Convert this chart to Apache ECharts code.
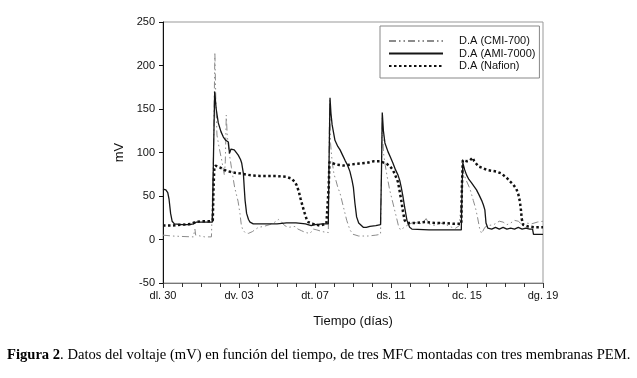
<!DOCTYPE html>
<html>
<head>
<meta charset="utf-8">
<script src="https://cdn.jsdelivr.net/npm/echarts/dist/echarts.min.js"></script>
<style>
html,body{margin:0;padding:0;background:#fff;}
#chart{width:637px;height:378px;}
</style>
</head>
<body>
<div id="chart"></div>
<script>
// x = days since "dl. 30"; values in mV
const xTickLabels = ['dl. 30', 'dv. 03', 'dt. 07', 'ds. 11', 'dc. 15', 'dg. 19'];
const seriesNames = ['D.A (CMI-700)', 'D.A (AMI-7000)', 'D.A (Nafion)'];

const cmi700 = [
  [0,5],[0.5,4],[1.0,3.5],[1.6,3],[1.66,3],[1.68,12],[1.72,5],[1.8,4],[2.2,3],[2.55,3],[2.62,3],
  [2.66,100],[2.73,215],[2.78,160],[2.84,120],[2.96,105],[3.1,90],[3.23,74],[3.28,90],[3.33,143],
  [3.38,120],[3.42,112],[3.5,97],[3.6,83],[3.68,72],[3.77,60],[3.86,52],[3.95,44],[4.05,30],
  [4.12,17],[4.2,11],[4.32,8],[4.49,7],[4.7,9],[5.02,14],[5.3,15],[5.6,17],[5.89,20],[6.07,23],
  [6.25,20],[6.4,16],[6.6,14],[6.95,15],[7.1,12],[7.3,10],[7.5,8],[7.74,7],[7.91,12],[8.1,11],
  [8.4,9],[8.7,8],
  [8.74,100],[8.77,160],[8.82,110],[8.9,90],[9.0,75],[9.1,68],[9.2,60],[9.32,53],[9.5,37],
  [9.67,22],[9.84,11],[10.0,6],[10.3,4],[10.8,4],[11.2,5],[11.45,6],
  [11.5,80],[11.54,140],[11.6,100],[11.7,85],[11.8,72],[11.93,57],[12.1,42],[12.28,26],[12.4,15],
  [12.5,11],[12.7,14],[12.9,17],[13.2,20],[13.5,18],[13.7,20],[13.85,24],[14.0,18],[14.3,16],
  [14.6,19],[14.9,17],[15.2,14],[15.4,13],[15.6,16],[15.7,17],
  [15.74,60],[15.78,82],[15.85,74],[15.96,68],[16.16,58],[16.33,45],[16.45,36],[16.55,26],
  [16.67,12],[16.77,7],[16.86,8],[16.94,14],[17.1,16],[17.4,17],[17.7,21],[17.9,20],[18.1,17],
  [18.3,19],[18.5,22],[18.7,21],[18.9,17],[19.1,19],[19.4,18],[19.7,20],[20,21]
];

const ami7000 = [
  [0,58],[0.15,57],[0.25,54],[0.32,46],[0.4,30],[0.48,21],[0.6,18],[1.0,17],[1.4,17],[1.6,18],
  [1.75,20],[2.2,20],[2.6,20],
  [2.66,100],[2.72,170],[2.8,150],[2.91,134],[3.05,124],[3.17,118],[3.3,114],[3.44,112],[3.5,99],
  [3.58,104],[3.75,103],[3.96,97],[4.08,92],[4.14,88],[4.23,76],[4.28,58],[4.32,45],[4.4,30],
  [4.5,23],[4.58,20],[4.75,18],[5.5,18],[6.0,18],[6.5,19],[7.0,19],[7.5,18],[7.8,16],[8.0,17],
  [8.4,18],[8.7,18],
  [8.74,90],[8.79,163],[8.84,145],[8.9,132],[9.05,114],[9.2,107],[9.32,103],[9.45,97],[9.58,91],
  [9.72,85],[9.84,78],[9.95,68],[10.02,60],[10.1,42],[10.19,26],[10.3,19],[10.37,17],[10.54,14],
  [10.7,14],[10.89,15],[11.2,16],[11.45,17],
  [11.5,80],[11.54,146],[11.6,125],[11.68,111],[11.84,101],[11.96,95],[12.1,88],[12.24,80],
  [12.37,74],[12.46,68],[12.54,60],[12.64,48],[12.72,37],[12.84,22],[12.98,14],[13.1,12],
  [14,11],[15,11],[15.7,11],
  [15.74,60],[15.78,88],[15.88,80],[15.98,74],[16.1,69],[16.24,65],[16.37,61],[16.5,57],
  [16.64,51],[16.77,45],[16.86,40],[16.94,34],[17.0,19],[17.1,13],[17.3,12],[17.5,14],[17.7,12],
  [17.9,14],[18.1,12],[18.3,13],[18.5,12],[18.7,14],[18.9,12],[19.1,13],[19.3,12],[19.45,12],
  [19.5,6],[20,6]
];

const nafion = [
  [0,16],[0.5,16],[1.0,17],[1.5,18],[1.7,20],[2.0,21],[2.5,21],[2.62,22],
  [2.66,60],[2.7,82],[2.76,85],[2.98,83],[3.33,79],[3.68,77],[4.04,76],[4.56,74],[5.09,73],
  [5.5,73],[5.96,73],[6.49,72],[6.77,70],[6.95,66],[7.04,62],[7.15,55],[7.24,47],[7.35,38],
  [7.46,30],[7.55,24],[7.65,20],[7.9,18],[8.25,16],[8.6,18],[8.68,18],
  [8.72,60],[8.76,89],[9.14,86],[9.5,85],[9.84,86],[10.2,87],[10.72,88],[11.1,90],[11.42,90],
  [11.55,89],[11.77,87],[11.95,84],[12.1,80],[12.24,73],[12.37,66],[12.46,55],[12.54,45],
  [12.63,32],[12.72,22],[12.85,19],[13.3,19],[13.8,20],[14.3,19],[14.8,19],[15.3,18],[15.7,18],
  [15.73,60],[15.78,91],[16.0,90],[16.16,91],[16.3,94],[16.38,90],[16.6,84],[16.84,82],
  [17.04,80],[17.3,79],[17.56,78],[17.8,76],[18.09,71],[18.25,67],[18.44,63],[18.6,58],
  [18.7,52],[18.78,44],[18.83,36],[18.88,24],[18.95,17],[19.2,15],[19.6,14],[20,14]
];

const chart = echarts.init(document.getElementById('chart'), null, {renderer: 'canvas'});
const baseFont = 'Liberation Sans, Arial, sans-serif';

chart.setOption({
  animation: false,
  backgroundColor: '#ffffff',
  grid: {
    left: 163, right: 94, top: 22, bottom: 95,
    show: true, borderColor: '#999', borderWidth: 1, backgroundColor: 'transparent'
  },
  legend: {
    orient: 'vertical',
    left: 380, top: 26,
    padding: [9, 4, 6, 8],
    itemWidth: 54, itemHeight: 12, itemGap: 0.5,
    backgroundColor: '#fff',
    borderColor: '#888', borderWidth: 1,
    itemStyle: {opacity: 0, borderWidth: 0},
    textStyle: {fontFamily: baseFont, fontSize: 11, color: '#111', lineHeight: 12, padding: [0, 0, 0, 11]},
    data: seriesNames
  },
  xAxis: {
    type: 'value', min: 0, max: 20, interval: 4,
    axisLine: {show: true, onZero: false, lineStyle: {color: '#777', width: 1}},
    axisTick: {show: true, length: 5, lineStyle: {color: '#333'}},
    minorTick: {show: true, splitNumber: 4, length: 4, lineStyle: {color: '#333'}},
    splitLine: {show: false},
    axisLabel: {
      formatter: v => xTickLabels[Math.round(v / 4)],
      fontFamily: baseFont, fontSize: 11, color: '#111', margin: 7
    },
    name: 'Tiempo (días)', nameLocation: 'middle', nameGap: 32,
    nameTextStyle: {fontFamily: baseFont, fontSize: 13, color: '#111'}
  },
  yAxis: {
    type: 'value', min: -50, max: 250, interval: 50,
    axisLine: {show: true, onZero: false, lineStyle: {color: '#111', width: 1}},
    axisTick: {show: true, length: 4, lineStyle: {color: '#111'}},
    splitLine: {show: false},
    axisLabel: {fontFamily: baseFont, fontSize: 11, color: '#111', margin: 8},
    name: 'mV', nameLocation: 'middle', nameGap: 37, nameRotate: 90,
    nameTextStyle: {fontFamily: baseFont, fontSize: 13, color: '#111'}
  },
  series: [
    {
      name: seriesNames[0], type: 'line', data: cmi700, symbol: 'none', z: 2,
      lineStyle: {color: '#8c8c8c', width: 1, type: [7, 3, 1.5, 3, 1.5, 3]},
      itemStyle: {color: '#8c8c8c'}
    },
    {
      name: seriesNames[1], type: 'line', data: ami7000, symbol: 'none', z: 3,
      lineStyle: {color: '#151515', width: 1.3, type: 'solid'},
      itemStyle: {color: '#151515'}
    },
    {
      name: seriesNames[2], type: 'line', data: nafion, symbol: 'none', z: 4,
      lineStyle: {color: '#111', width: 2.5, type: [2.5, 2.5]},
      itemStyle: {color: '#111'}
    }
  ],
  graphic: [{
    type: 'text', left: 7, top: 348,
    style: {
      text: '{b|Figura 2}. Datos del voltaje (mV) en función del tiempo, de tres MFC montadas con tres membranas PEM.',
      font: '14.6px "Liberation Serif", "Times New Roman", serif',
      fill: '#000',
      rich: {b: {fontWeight: 'bold', fontFamily: 'Liberation Serif', fontSize: 14.6, fill: '#000'}}
    }
  }]
});
</script>
</body>
</html>
